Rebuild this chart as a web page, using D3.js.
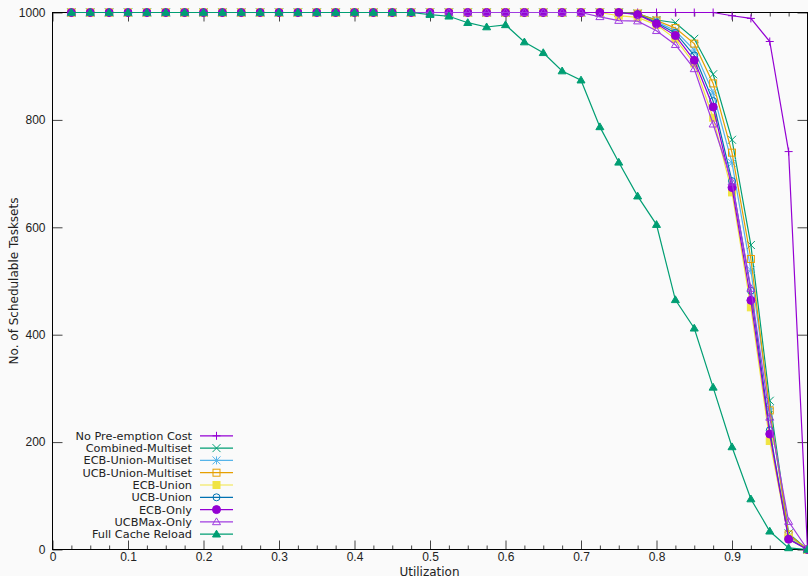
<!DOCTYPE html>
<html>
<head>
<meta charset="utf-8">
<script src="https://cdn.jsdelivr.net/npm/d3@7"></script>
<style>
	body { margin: 0; background: #fafafa; }
	svg { display: block; font-family: "DejaVu Sans", sans-serif; }
</style>
</head>
<body>
<svg id="chart"></svg>
<script>
// DATA

var utilization = [0.025, 0.05, 0.075, 0.1, 0.125, 0.15, 0.175, 0.2, 0.225, 0.25,
	0.275, 0.3, 0.325, 0.35, 0.375, 0.4, 0.425, 0.45, 0.475, 0.5,
	0.525, 0.55, 0.575, 0.6, 0.625, 0.65, 0.675, 0.7, 0.725, 0.75,
	0.775, 0.8, 0.825, 0.85, 0.875, 0.9, 0.925, 0.95, 0.975, 1.0];

var noPreemption = [1000, 1000, 1000, 1000, 1000, 1000, 1000, 1000, 1000, 1000,
	1000, 1000, 1000, 1000, 1000, 1000, 1000, 1000, 1000, 1000,
	1000, 1000, 1000, 1000, 1000, 1000, 1000, 1000, 1000, 1000,
	1000, 1000, 1000, 1000, 1000, 994, 989, 946, 741, 0];

var combinedMultiset = [1000, 1000, 1000, 1000, 1000, 1000, 1000, 1000, 1000, 1000,
	1000, 1000, 1000, 1000, 1000, 1000, 1000, 1000, 1000, 1000,
	1000, 1000, 1000, 1000, 1000, 1000, 1000, 1000, 1000, 1000,
	998, 986, 981, 951, 885, 763, 567, 277, 30, 0];

var ecbUnionMultiset = [1000, 1000, 1000, 1000, 1000, 1000, 1000, 1000, 1000, 1000,
	1000, 1000, 1000, 1000, 1000, 1000, 1000, 1000, 1000, 1000,
	1000, 1000, 1000, 1000, 1000, 1000, 1000, 1000, 1000, 1000,
	997, 983, 966, 930, 850, 720, 520, 262, 25, 0];

var ucbUnionMultiset = [1000, 1000, 1000, 1000, 1000, 1000, 1000, 1000, 1000, 1000,
	1000, 1000, 1000, 1000, 1000, 1000, 1000, 1000, 1000, 1000,
	1000, 1000, 1000, 1000, 1000, 1000, 1000, 1000, 1000, 1000,
	998, 985, 971, 942, 868, 739, 541, 259, 28, 0];

var ecbUnion = [1000, 1000, 1000, 1000, 1000, 1000, 1000, 1000, 1000, 1000,
	1000, 1000, 1000, 1000, 1000, 1000, 1000, 1000, 1000, 1000,
	1000, 1000, 1000, 1000, 1000, 1000, 1000, 1000, 1000, 994,
	991, 977, 951, 905, 804, 665, 451, 202, 22, 0];

var ucbUnion = [1000, 1000, 1000, 1000, 1000, 1000, 1000, 1000, 1000, 1000,
	1000, 1000, 1000, 1000, 1000, 1000, 1000, 1000, 1000, 1000,
	1000, 1000, 1000, 1000, 1000, 1000, 1000, 1000, 1000, 1000,
	997, 981, 962, 920, 835, 686, 482, 222, 20, 0];

var ecbOnly = [1000, 1000, 1000, 1000, 1000, 1000, 1000, 1000, 1000, 1000,
	1000, 1000, 1000, 1000, 1000, 1000, 1000, 1000, 1000, 1000,
	1000, 1000, 1000, 1000, 1000, 1000, 1000, 1000, 1000, 1000,
	996, 979, 957, 911, 824, 674, 464, 215, 19, 0];

var ucbMaxOnly = [1000, 1000, 1000, 1000, 1000, 1000, 1000, 1000, 1000, 1000,
	1000, 1000, 1000, 1000, 1000, 1000, 1000, 1000, 1000, 1000,
	1000, 1000, 1000, 1000, 1000, 1000, 1000, 1000, 992, 985,
	984, 966, 940, 895, 792, 684, 486, 246, 52, 0];

var fullCacheReload = [1000, 1000, 1000, 1000, 1000, 1000, 1000, 1000, 1000, 1000,
	1000, 1000, 1000, 1000, 1000, 1000, 1000, 1000, 1000, 996,
	993, 981, 973, 977, 945, 925, 891, 874, 787, 721,
	658, 605, 465, 412, 302, 191, 94, 34, 3, 0];

var xTicks = [0, 0.1, 0.2, 0.3, 0.4, 0.5, 0.6, 0.7, 0.8, 0.9, 1];
var xTickLabels = ["0", "0.1", "0.2", "0.3", "0.4", "0.5", "0.6", "0.7", "0.8", "0.9", ""];
var yTicks = [0, 200, 400, 600, 800, 1000];

var series = [
	{ name: "No Pre-emption Cost", values: noPreemption, color: "#9400d3", mark: "plus" },
	{ name: "Combined-Multiset", values: combinedMultiset, color: "#009e73", mark: "cross" },
	{ name: "ECB-Union-Multiset", values: ecbUnionMultiset, color: "#56b4e9", mark: "star" },
	{ name: "UCB-Union-Multiset", values: ucbUnionMultiset, color: "#e69f00", mark: "square" },
	{ name: "ECB-Union", values: ecbUnion, color: "#f0e442", mark: "squareFill" },
	{ name: "UCB-Union", values: ucbUnion, color: "#0072b2", mark: "circle" },
	{ name: "ECB-Only", values: ecbOnly, color: "#9400d3", mark: "circleFill" },
	{ name: "UCBMax-Only", values: ucbMaxOnly, color: "#a03ce0", mark: "triangle" },
	{ name: "Full Cache Reload", values: fullCacheReload, color: "#009e73", mark: "triangleFill" }
];

// DIMENSIONS

var width = 808,
	height = 576,
	plotLeft = 52.5,
	plotRight = 807.5,
	plotTop = 12.5,
	plotBottom = 549.5;

var svg = d3.select("#chart")
	.attr('width', width)
	.attr('height', height)
	.style('background', '#fafafa');

var xScale = d3.scaleLinear().domain([0, 1]).range([plotLeft, plotRight]);
var yScale = d3.scaleLinear().domain([0, 1000]).range([plotBottom, plotTop]);

// AXES (gnuplot style, ticks inward, mirrored)

var xMinor = d3.range(0, 40).map(function(i) { return i * 0.025; })
	.filter(function(v, i) { return i % 4 != 0; });

var xAxis = d3.axisBottom(xScale).tickValues(xTicks)
	.tickFormat(function(d, i) { return xTickLabels[i]; })
	.tickSizeInner(-9).tickSizeOuter(0).tickPadding(3);
var xAxisMinor = d3.axisBottom(xScale).tickValues(xMinor)
	.tickFormat("").tickSizeInner(-4).tickSizeOuter(0);
var xAxisTop = d3.axisTop(xScale).tickValues(xTicks)
	.tickFormat("").tickSizeInner(-9).tickSizeOuter(0);
var xAxisTopMinor = d3.axisTop(xScale).tickValues(xMinor)
	.tickFormat("").tickSizeInner(-4).tickSizeOuter(0);
var yAxis = d3.axisLeft(yScale).tickValues(yTicks)
	.tickFormat(d3.format("d"))
	.tickSizeInner(-10).tickSizeOuter(0).tickPadding(7);
var yAxisRight = d3.axisRight(yScale).tickValues(yTicks)
	.tickFormat("").tickSizeInner(-10).tickSizeOuter(0);

function drawAxis(axis, tx, ty) {
	var g = svg.append('g')
		.attr('transform', 'translate(' + tx + ',' + ty + ')')
		.call(axis);
	g.select('.domain').remove();
	g.selectAll('.tick line').attr('stroke', '#444');
	g.selectAll('.tick text')
		.attr('fill', '#222')
		.style('font-size', '12px');
	return g;
}

drawAxis(xAxis, 0, plotBottom);
drawAxis(xAxisMinor, 0, plotBottom);
drawAxis(xAxisTop, 0, plotTop);
drawAxis(xAxisTopMinor, 0, plotTop);
drawAxis(yAxis, plotLeft, 0);
drawAxis(yAxisRight, plotRight, 0);

svg.append('rect')
	.attr('x', plotLeft)
	.attr('y', plotTop)
	.attr('width', plotRight - plotLeft)
	.attr('height', plotBottom - plotTop)
	.attr('fill', 'none')
	.attr('stroke', '#000')
	.attr('stroke-width', 1);

svg.append('text')
	.attr('x', (plotLeft + plotRight) / 2 - 0.5)
	.attr('y', 575.5)
	.attr('text-anchor', 'middle')
	.style('font-size', '12px')
	.attr('fill', '#222')
	.text("Utilization");

svg.append('text')
	.attr('transform', 'translate(18,' + ((plotTop + plotBottom) / 2) + ') rotate(-90)')
	.attr('text-anchor', 'middle')
	.style('font-size', '12px')
	.attr('fill', '#222')
	.text("No. of Schedulable Tasksets");

// MARKERS

function drawMark(g, mark, color, x, y) {
	var s = 4;
	if (mark == "plus") {
		g.append('path').attr('d', 'M' + (x - s) + ',' + y + 'H' + (x + s) + 'M' + x + ',' + (y - s) + 'V' + (y + s))
			.attr('stroke', color).attr('fill', 'none');
	} else if (mark == "cross") {
		g.append('path').attr('d', 'M' + (x - s) + ',' + (y - s) + 'L' + (x + s) + ',' + (y + s) +
			'M' + (x - s) + ',' + (y + s) + 'L' + (x + s) + ',' + (y - s))
			.attr('stroke', color).attr('fill', 'none');
	} else if (mark == "star") {
		g.append('path').attr('d', 'M' + (x - s) + ',' + y + 'H' + (x + s) + 'M' + x + ',' + (y - s) + 'V' + (y + s) +
			'M' + (x - s) + ',' + (y - s) + 'L' + (x + s) + ',' + (y + s) +
			'M' + (x - s) + ',' + (y + s) + 'L' + (x + s) + ',' + (y - s))
			.attr('stroke', color).attr('fill', 'none');
	} else if (mark == "square" || mark == "squareFill") {
		g.append('rect').attr('x', x - 3.5).attr('y', y - 3.5).attr('width', 7).attr('height', 7)
			.attr('stroke', color)
			.attr('fill', mark == "squareFill" ? color : 'none');
	} else if (mark == "circle" || mark == "circleFill") {
		g.append('circle').attr('cx', x).attr('cy', y).attr('r', mark == "circleFill" ? 4 : 3.5)
			.attr('stroke', color)
			.attr('fill', mark == "circleFill" ? color : 'none');
	} else if (mark == "triangle" || mark == "triangleFill") {
		g.append('path').attr('d', 'M' + x + ',' + (y - 4) + 'L' + (x + 4) + ',' + (y + 2.8) + 'L' + (x - 4) + ',' + (y + 2.8) + 'Z')
			.attr('stroke', color)
			.attr('fill', mark == "triangleFill" ? color : 'none');
	}
}

// LINES

var line = d3.line()
	.x(function(d, i) { return xScale(utilization[i]); })
	.y(function(d) { return yScale(d); });

series.forEach(function(s) {
	var g = svg.append('g');
	g.append('path')
		.attr('d', line(s.values))
		.attr('fill', 'none')
		.attr('stroke', s.color)
		.attr('stroke-width', 1.2);
	s.values.forEach(function(v, i) {
		drawMark(g, s.mark, s.color, xScale(utilization[i]), yScale(v));
	});
});

// LEGEND

var legend = svg.append('g');
series.forEach(function(s, i) {
	var y = 435.8 + i * 12.3;
	legend.append('text')
		.attr('x', 192)
		.attr('y', y + 4)
		.attr('text-anchor', 'end')
		.style('font-size', '11.3px')
		.attr('fill', '#222')
		.text(s.name);
	legend.append('line')
		.attr('x1', 200).attr('x2', 233)
		.attr('y1', y).attr('y2', y)
		.attr('stroke', s.color)
		.attr('stroke-width', 1.2);
	drawMark(legend, s.mark, s.color, 216.5, y);
});
</script>
</body>
</html>
